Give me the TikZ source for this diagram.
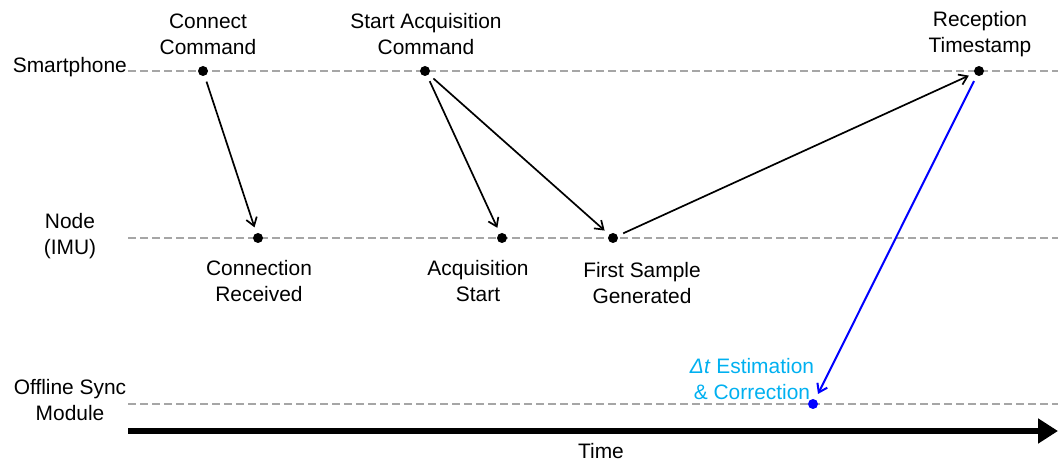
\documentclass[tikz,border=0pt]{standalone}
\usepackage{fontspec}
\setmainfont{Liberation Sans}
\usetikzlibrary{arrows.meta}
\definecolor{lanegray}{HTML}{A6A6A6}
\definecolor{lightblue}{HTML}{00B0F0}
\begin{document}
\begin{tikzpicture}[x=1bp,y=-1bp,
  lane/.style={draw=lanegray,line width=1.6bp,dash pattern=on 8bp off 4bp},
  dot/.style={circle,fill=black,inner sep=0pt,minimum size=10bp},
  bdot/.style={circle,fill=blue,inner sep=0pt,minimum size=10bp},
  lbl/.style={align=center,font=\fontsize{21}{26}\selectfont,inner sep=0pt},
  msg/.style={draw=black,line width=1.7bp,-{Straight Barb[length=8bp,width=11bp]},shorten >=6bp,shorten <=6bp},
  bmsg/.style={draw=blue,line width=2bp,-{Straight Barb[length=8bp,width=11bp]},shorten >=6bp,shorten <=6bp},
  timeaxis/.style={draw=black,line width=6bp,-{Triangle[length=20bp,width=24bp]}}]
\useasboundingbox (0,0) rectangle (1058,462);
% lanes
\coordinate (s0) at (128,71); \coordinate (s1) at (1058,71);
\coordinate (n0) at (128,238); \coordinate (n1) at (1058,238);
\coordinate (o0) at (128,404); \coordinate (o1) at (1058,404);
\draw[lane] (s0) -- (s1);
\draw[lane] (n0) -- (n1);
\draw[lane] (o0) -- (o1);
% time axis
\coordinate (t0) at (128,431); \coordinate (t1) at (1058,431);
\draw[timeaxis] (t0) -- (t1);
\node[lbl] (timelbl) at (601,451) {Time};
% lane labels
\node[lbl,anchor=east] (smart) at (127,67) {Smartphone};
\node[lbl] (imu) at (70,236) {Node\\(IMU)};
\node[lbl] (sync) at (70,400) {Offline Sync\\Module};
% dots
\node[dot] (cc) at (203,71) {};
\node[dot] (sac) at (425,71) {};
\node[dot] (rt) at (979,71) {};
\node[dot] (cr) at (258,238) {};
\node[dot] (as) at (502,238) {};
\node[dot] (fs) at (613,238) {};
\node[bdot] (dt) at (813,404) {};
% labels
\node[lbl] (cclbl) at (208,34) {Connect\\Command};
\node[lbl] (saclbl) at (426,34) {Start Acquisition\\Command};
\node[lbl] (rtlbl) at (980,34) {Reception\\Timestamp};
\node[lbl] (crlbl) at (259,281) {Connection\\Received};
\node[lbl] (aslbl) at (478,281) {Acquisition\\Start};
\node[lbl] (fslbl) at (642,283) {First Sample\\Generated};
\node[lbl,text=lightblue] (dtlbl) at (752,379) {\textit{Δt} Estimation\\\& Correction};
% messages
\draw[msg] (cc) -- (cr);
\draw[msg] (sac) -- (as);
\draw[msg] (sac) -- (fs);
\draw[msg] (fs) -- (rt);
\draw[bmsg] (rt) -- (dt);
\end{tikzpicture}
\end{document}
